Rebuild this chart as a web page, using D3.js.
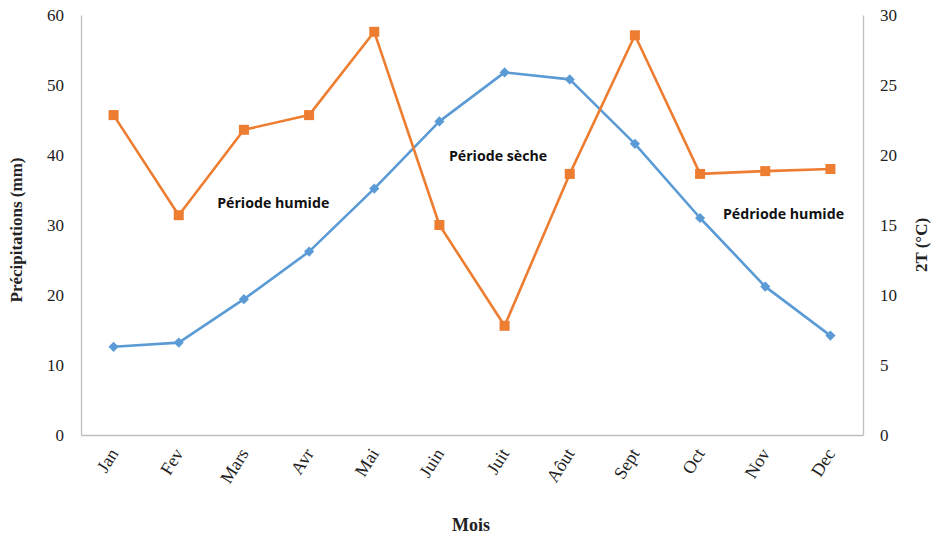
<!DOCTYPE html>
<html>
<head>
<meta charset="utf-8">
<script src="https://cdn.jsdelivr.net/npm/d3@7"></script>
<style>
  html, body { margin: 0; padding: 0; background: #fff; }
  svg { display: block; }
</style>
</head>
<body>
<svg id="chart" width="939" height="538"></svg>
<script>
// Monthly rainfall (mm) and 2T (°C), Gaussen-style ombrothermic diagram
const months = ["Jan", "Fev", "Mars", "Avr", "Mai", "Juin", "Juit", "Aôut", "Sept", "Oct", "Nov", "Dec"];
const precipitation = [45.7, 31.4, 43.6, 45.7, 57.6, 30.0, 15.6, 37.3, 57.1, 37.3, 37.7, 38.0];
const temperature = [6.3, 6.6, 9.7, 13.1, 17.6, 22.4, 25.9, 25.4, 20.8, 15.5, 10.6, 7.1];
const leftTicks = [0, 10, 20, 30, 40, 50, 60];
const rightTicks = [0, 5, 10, 15, 20, 25, 30];
const periods = [
  { text: "Période humide", month: "Mars", offset: 0.45, value: 32.4 },
  { text: "Période sèche", month: "Juin", offset: 0.9, value: 39.1 },
  { text: "Pédriode humide", month: "Nov", offset: 0.28, value: 30.8 }
];

const svg = d3.select("#chart");
const margin = { left: 81, right: 76, top: 15, bottom: 103 };
const W = 939, H = 538;
const x0 = margin.left, x1 = W - margin.right, y0 = H - margin.bottom, y1 = margin.top;

const x = d3.scaleBand().domain(months).range([x0, x1]);
const yP = d3.scaleLinear().domain([0, 60]).range([y0, y1]);
const yT = d3.scaleLinear().domain([0, 30]).range([y0, y1]);
const cx = m => x(m) + x.bandwidth() / 2;

const axisColor = "#bfbfbf";
const serif = "'Liberation Serif', 'Times New Roman', serif";

// Left axis
const gl = svg.append("g").attr("transform", `translate(${x0},0)`)
  .call(d3.axisLeft(yP).tickValues(leftTicks).tickSize(0).tickPadding(17));
// Right axis
const gr = svg.append("g").attr("transform", `translate(${x1},0)`)
  .call(d3.axisRight(yT).tickValues(rightTicks).tickSize(0).tickPadding(17));
// Bottom axis
const gb = svg.append("g").attr("transform", `translate(0,${y0})`)
  .call(d3.axisBottom(x).tickSize(0).tickPadding(0));

[gl, gr, gb].forEach(g => {
  g.select(".domain").attr("stroke", axisColor).attr("stroke-width", 1.3);
  g.selectAll("text").attr("font-family", serif).attr("font-size", 17).attr("fill", "#222");
});

gb.selectAll(".tick text")
  .attr("font-size", 18)
  .attr("text-anchor", "end")
  .attr("dy", "0.35em")
  .attr("transform", "translate(0,15) rotate(-58)");

// Axis titles
svg.append("text")
  .attr("transform", `translate(22,${(y0 + y1) / 2 + 5}) rotate(-90)`)
  .attr("text-anchor", "middle")
  .attr("font-family", serif).attr("font-weight", "bold").attr("font-size", 17)
  .attr("fill", "#222")
  .text("Précipitations (mm)");

svg.append("text")
  .attr("transform", `translate(927,${(y0 + y1) / 2 + 20}) rotate(-90)`)
  .attr("text-anchor", "middle")
  .attr("font-family", serif).attr("font-weight", "bold").attr("font-size", 17)
  .attr("fill", "#222")
  .text("2T (°C)");

svg.append("text")
  .attr("x", 471).attr("y", 531)
  .attr("text-anchor", "middle")
  .attr("font-family", serif).attr("font-weight", "bold").attr("font-size", 18)
  .attr("fill", "#222")
  .text("Mois");

// Temperature series (blue, diamonds)
const blue = "#5b9bd5", orange = "#ed7d31";
svg.append("path")
  .datum(temperature)
  .attr("fill", "none").attr("stroke", blue).attr("stroke-width", 2.6)
  .attr("stroke-linejoin", "round")
  .attr("d", d3.line().x((d, i) => cx(months[i])).y(d => yT(d)));

svg.append("g").selectAll("path")
  .data(temperature)
  .join("path")
  .attr("transform", (d, i) => `translate(${cx(months[i])},${yT(d)}) rotate(45)`)
  .attr("d", "M-3.6,-3.6H3.6V3.6H-3.6Z")
  .attr("fill", blue);

// Precipitation series (orange, squares)
svg.append("path")
  .datum(precipitation)
  .attr("fill", "none").attr("stroke", orange).attr("stroke-width", 2.6)
  .attr("stroke-linejoin", "round")
  .attr("d", d3.line().x((d, i) => cx(months[i])).y(d => yP(d)));

svg.append("g").selectAll("rect")
  .data(precipitation)
  .join("rect")
  .attr("x", (d, i) => cx(months[i]) - 5)
  .attr("y", d => yP(d) - 5)
  .attr("width", 10).attr("height", 10)
  .attr("fill", orange);

// Period annotations
svg.append("g").selectAll("text")
  .data(periods)
  .join("text")
  .attr("x", d => cx(d.month) + d.offset * x.bandwidth())
  .attr("y", d => yP(d.value))
  .attr("text-anchor", "middle")
  .attr("font-family", "'Open Sans', 'Noto Sans', sans-serif")
  .attr("font-weight", "bold").attr("font-size", 14.2)
  .attr("fill", "#111")
  .text(d => d.text);
</script>
</body>
</html>
